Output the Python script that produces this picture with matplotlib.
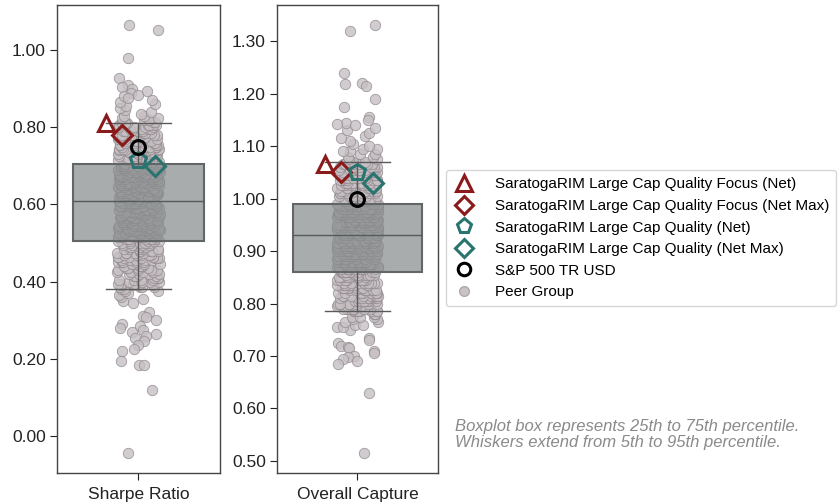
import numpy as np
import matplotlib
matplotlib.use('Agg')
import matplotlib.pyplot as plt
import seaborn as sns
from matplotlib.lines import Line2D

plt.rcParams['font.family'] = ['Liberation Sans', 'DejaVu Sans']

# peer group: dense core as counts per 0.005 bin + loose points
sharpe_core_start = 0.335
sharpe_core_counts = [0, 0, 1, 1, 1, 1, 1, 1, 2, 2,
                      4, 4, 4, 4, 4, 4, 4, 4, 4, 4, 4, 4, 5, 5, 5, 5, 5, 5, 5, 5, 5, 5, 5, 5, 5,
                      7, 7, 7, 7, 7, 7, 7, 7, 7, 7, 7, 7, 7, 7, 7, 7, 7, 7, 7, 7, 7,
                      8, 7, 8, 7, 8, 7, 8, 7, 8, 7, 8, 7, 8, 7, 8, 7, 8, 7, 8, 7,
                      5, 5, 5, 5, 5, 5, 5, 5, 5, 5, 5, 5, 5, 5, 5, 5, 5, 5, 5, 5,
                      2, 2, 2, 2, 1, 1, 1, 1, 1, 1, 1, 1]
sharpe_loose = [1.065, 1.052, 0.979, 0.927, 0.910, 0.905, 0.900, 0.895, 0.890,
                0.885, 0.880, 0.875, 0.320, 0.310, 0.308, 0.300, 0.290, 0.285,
                0.280, 0.275, 0.270, 0.265, 0.260, 0.255, 0.245, 0.235, 0.225,
                0.220, 0.195, 0.185, 0.184, 0.120, -0.045]

capture_core_start = 0.750
capture_core_counts = [1, 2, 2, 2, 2, 3, 3,
                       8, 8, 8, 8, 8, 8, 8, 8, 8, 8, 8, 8, 8, 8, 8,
                       11, 11, 11, 11, 11, 11, 11, 11, 11, 11, 11, 11, 11, 11,
                       14, 14, 14, 14, 14, 14, 14, 14, 14, 14, 14,
                       8, 8, 8, 8, 8, 8, 8, 8, 8, 8, 8, 8, 8, 8, 8, 8, 8,
                       2, 2, 2, 2, 2, 2, 1, 1, 1, 1, 1, 1, 1, 1]
capture_loose = [1.330, 1.320, 1.240, 1.220, 1.218, 1.215, 1.190, 1.175, 1.155,
                 1.150, 1.145, 1.143, 1.140, 0.735, 0.730, 0.725, 0.720, 0.718,
                 0.715, 0.710, 0.705, 0.700, 0.698, 0.695, 0.690, 0.685, 0.630, 0.515]

# funds: label, marker, colour, x offset, sharpe, capture
fund_labels = ['SaratogaRIM Large Cap Quality Focus (Net)',
               'SaratogaRIM Large Cap Quality Focus (Net Max)',
               'SaratogaRIM Large Cap Quality (Net)',
               'SaratogaRIM Large Cap Quality (Net Max)',
               'S&P 500 TR USD']
fund_sharpe = [0.81, 0.78, 0.715, 0.70, 0.75]
fund_capture = [1.065, 1.05, 1.05, 1.03, 1.00]
fund_markers = ['^', 'D', 'p', 'D', 'o']
fund_colors = ['#8b1a1a', '#8b1a1a', '#2a7470', '#2a7470', 'black']
fund_sizes = [12, 10, 12, 10, 10]
fund_dx = [-0.2, -0.1, 0.0, 0.1, 0.0]


def expand(start, counts, loose):
    bins = np.round(start + 0.005 * np.arange(len(counts)), 3)
    return np.concatenate([np.repeat(bins, counts), loose])


sharpe = expand(sharpe_core_start, sharpe_core_counts, sharpe_loose)
capture = expand(capture_core_start, capture_core_counts, capture_loose)

fig = plt.figure(figsize=(8.38, 5.04), dpi=100)
ax1 = fig.add_axes([0.068, 0.0615, 0.1945, 0.9286])
ax2 = fig.add_axes([0.3305, 0.0615, 0.192, 0.9286])

panels = [(ax1, sharpe, fund_sharpe, 'Sharpe Ratio', (-0.096, 1.117), np.arange(0, 1.01, 0.2)),
          (ax2, capture, fund_capture, 'Overall Capture', (0.477, 1.369), np.arange(0.5, 1.31, 0.1))]

for ax, vals, fvals, name, ylim, ticks in panels:
    sns.stripplot(y=vals, ax=ax, jitter=0.13, size=7.5, color='#c6c0c3',
                  edgecolor='#8f878c', linewidth=0.6, alpha=0.8, zorder=1)
    bp = ax.boxplot(vals, positions=[0], widths=0.8, whis=(5, 95), showfliers=False,
                    patch_artist=True, capwidths=0.4, zorder=3)
    for b in bp['boxes']:
        b.set_facecolor((0.53, 0.55, 0.55, 0.72))
        b.set_edgecolor('#626666')
        b.set_linewidth(1.5)
    for ln in bp['medians']:
        ln.set_color('#555a5a')
        ln.set_linewidth(1.0)
    for ln in bp['whiskers'] + bp['caps']:
        ln.set_color('#5a5a5a')
        ln.set_linewidth(1.0)
    for i in range(len(fvals)):
        ax.plot(fund_dx[i], fvals[i], marker=fund_markers[i], ms=fund_sizes[i],
                mfc='none', mec=fund_colors[i], mew=2.2, ls='none', zorder=5)
    ax.set_xlim(-0.5, 0.5)
    ax.set_ylim(*ylim)
    ax.set_yticks(ticks)
    ax.set_yticklabels(['%.2f' % t for t in ticks])
    ax.set_xticks([0])
    ax.set_xticklabels([name])
    ax.tick_params(labelsize=12.5, colors='#222222', length=5, pad=3)
    ax.tick_params(axis='x', pad=5)
    for s in ax.spines.values():
        s.set_color('#444444')
        s.set_linewidth(1.0)

handles = [Line2D([], [], marker=fund_markers[i], ms=fund_sizes[i] - 1, mfc='none',
                  mec=fund_colors[i], mew=2.2, ls='none') for i in range(len(fund_labels))]
handles.append(Line2D([], [], marker='o', ms=7, color='#c9c2c6', mec='#b0a8ad', ls='none'))
fig.legend(handles, fund_labels + ['Peer Group'], loc='upper left',
           bbox_to_anchor=(0.532, 0.662), fontsize=11, frameon=True,
           edgecolor='#cccccc', labelspacing=0.5, handlelength=1.5,
           handletextpad=1.25, borderpad=0.45, borderaxespad=0)

fig.text(0.543, 0.168, 'Boxplot box represents 25th to 75th percentile.\n'
         'Whiskers extend from 5th to 95th percentile.',
         fontsize=12, style='italic', color='#8a8a8a', va='top', linespacing=1.05)

fig.savefig('out.png', dpi=100)
